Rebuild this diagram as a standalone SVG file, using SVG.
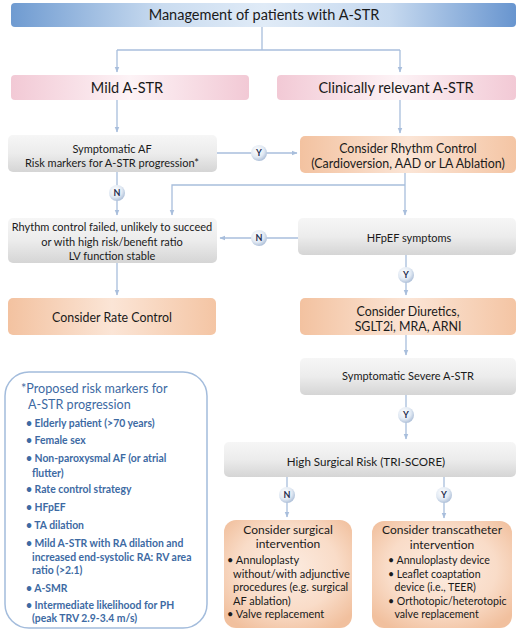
<svg xmlns="http://www.w3.org/2000/svg" width="520" height="634" viewBox="0 0 520 634">
<defs>
<linearGradient id="gTitle" x1="0" y1="0" x2="1" y2="0">
<stop offset="0" stop-color="#6f9bd1"/><stop offset="0.3" stop-color="#cadcf0"/><stop offset="0.5" stop-color="#e0ebf7"/><stop offset="0.75" stop-color="#c6d9ef"/><stop offset="1" stop-color="#6895cf"/>
</linearGradient>
<linearGradient id="gPink" x1="0" y1="0" x2="1" y2="0">
<stop offset="0" stop-color="#f2c9d5"/><stop offset="0.5" stop-color="#fdf3f6"/><stop offset="1" stop-color="#f2c9d5"/>
</linearGradient>
<linearGradient id="gGrey" x1="0" y1="0" x2="0" y2="1">
<stop offset="0" stop-color="#f6f6f6"/><stop offset="0.5" stop-color="#ececec"/><stop offset="1" stop-color="#d5d5d5"/>
</linearGradient>
<linearGradient id="gOrange" x1="0" y1="0" x2="1" y2="0">
<stop offset="0" stop-color="#f3c2a0"/><stop offset="0.5" stop-color="#fbe5d6"/><stop offset="1" stop-color="#f4c5a4"/>
</linearGradient>
<radialGradient id="gOrangeR" cx="0.5" cy="0.45" r="0.65">
<stop offset="0" stop-color="#fcece1"/><stop offset="0.6" stop-color="#f9dcc8"/><stop offset="1" stop-color="#f1c09e"/>
</radialGradient>
<radialGradient id="gBadge" cx="0.4" cy="0.35" r="0.7">
<stop offset="0" stop-color="#ffffff"/><stop offset="0.6" stop-color="#e1e9f3"/><stop offset="1" stop-color="#a6b9d4"/>
</radialGradient>
<marker id="ah" viewBox="0 0 10 10" refX="9" refY="5" markerWidth="4.5" markerHeight="4.5" orient="auto">
<path d="M0,1 L10,5 L0,9 z" fill="#a8bedc"/>
</marker>
</defs>
<style>
text{font-family:Lato,"Liberation Sans",sans-serif;fill:#1a1a1a}
.c{text-anchor:middle}
.t{font-size:14.5px}
.m{font-size:11px}
.o{font-size:12.4px}
.oh{font-size:12px}
.s{font-size:11.6px}
.rk{fill:#3d6aa3;font-size:10.4px;font-weight:bold}
.rt{fill:#3d6aa3;font-size:12.6px}
.bl{font-size:11px}
.bt2{font-size:10.6px}
.conn{fill:none;stroke:#a8bedc;stroke-width:1.3}
.badge{fill:url(#gBadge)}
.bt{font-size:9px;font-weight:bold;fill:#1e2f4f;text-anchor:middle}
</style>

<g id="connectors">
<path class="conn" d="M262,27 V50"/>
<path class="conn" d="M117,50 H400"/>
<path class="conn" d="M117,50 V72" marker-end="url(#ah)"/>
<path class="conn" d="M400,50 V72" marker-end="url(#ah)"/>
<path class="conn" d="M117,100 V132" marker-end="url(#ah)"/>
<path class="conn" d="M400,100 V133" marker-end="url(#ah)"/>
<path class="conn" d="M217,153 H297" marker-end="url(#ah)"/>
<path class="conn" d="M117,172 V215" marker-end="url(#ah)"/>
<path class="conn" d="M405,173 V215" marker-end="url(#ah)"/>
<path class="conn" d="M405,185 H172 V215" marker-end="url(#ah)"/>
<path class="conn" d="M298,238 H220" marker-end="url(#ah)"/>
<path class="conn" d="M117,263 V295" marker-end="url(#ah)"/>
<path class="conn" d="M406,255 V295" marker-end="url(#ah)"/>
<path class="conn" d="M406,335 V355" marker-end="url(#ah)"/>
<path class="conn" d="M406,395 V439" marker-end="url(#ah)"/>
<path class="conn" d="M287,477 V517" marker-end="url(#ah)"/>
<path class="conn" d="M444,477 V518" marker-end="url(#ah)"/>
<g id="badges">
<circle class="badge" cx="259" cy="153" r="8"/><text class="bt" x="259" y="156.3">Y</text>
<circle class="badge" cx="117" cy="193" r="8"/><text class="bt" x="117" y="196.3">N</text>
<circle class="badge" cx="259" cy="238" r="8"/><text class="bt" x="259" y="241.3">N</text>
<circle class="badge" cx="406" cy="275" r="8"/><text class="bt" x="406" y="278.3">Y</text>
<circle class="badge" cx="406" cy="415" r="8"/><text class="bt" x="406" y="418.3">Y</text>
<circle class="badge" cx="287" cy="495" r="8"/><text class="bt" x="287" y="498.3">N</text>
<circle class="badge" cx="444" cy="495" r="8"/><text class="bt" x="444" y="498.3">Y</text>
</g>
</g>

<g id="title">
<rect x="11" y="3" width="505" height="24" rx="4" fill="url(#gTitle)"/>
<text class="c t" x="264" y="20">Management of patients with A-STR</text>
</g>

<g id="mild">
<rect x="11" y="75" width="238" height="25" rx="4" fill="url(#gPink)"/>
<text class="c t" x="127" y="92.5">Mild A-STR</text>
</g>

<g id="relevant">
<rect x="277" y="75" width="239" height="25" rx="4" fill="url(#gPink)"/>
<text class="c t" x="396" y="92.5">Clinically relevant A-STR</text>
</g>

<g id="symptomaticAF">
<rect x="8" y="135" width="209" height="37" rx="5" fill="url(#gGrey)"/>
<text class="c m" x="112" y="152.5">Symptomatic AF</text>
<text class="c m" x="112" y="167">Risk markers for A-STR progression*</text>
</g>

<g id="rhythm">
<rect x="300" y="136" width="216" height="37" rx="5" fill="url(#gOrange)"/>
<text class="c o" x="408" y="152.5">Consider Rhythm Control</text>
<text class="c o" x="408" y="167.5">(Cardioversion, AAD or LA Ablation)</text>
</g>

<g id="failed">
<rect x="8" y="218" width="209" height="45" rx="5" fill="url(#gGrey)"/>
<text class="c m" x="112" y="231">Rhythm control failed, unlikely to succeed</text>
<text class="c m" x="112" y="246">or with high risk/benefit ratio</text>
<text class="c m" x="112" y="259.5">LV function stable</text>
</g>

<g id="hfpef">
<rect x="298" y="218" width="218" height="37" rx="5" fill="url(#gGrey)"/>
<text class="c m" x="409" y="241.5">HFpEF symptoms</text>
</g>

<g id="rate">
<rect x="8" y="298" width="208" height="37" rx="5" fill="url(#gOrange)"/>
<text class="c o" x="112" y="321.5">Consider Rate Control</text>
</g>

<g id="diuretics">
<rect x="300" y="298" width="216" height="37" rx="5" fill="url(#gOrange)"/>
<text class="c o" x="408" y="316">Consider Diuretics,</text>
<text class="c o" x="408" y="331">SGLT2i, MRA, ARNI</text>
</g>

<g id="severe">
<rect x="300" y="358" width="216" height="37" rx="5" fill="url(#gGrey)"/>
<text class="c m" x="408" y="380">Symptomatic Severe A-STR</text>
</g>

<g id="surgicalRisk">
<rect x="224" y="442" width="292" height="35" rx="5" fill="url(#gGrey)"/>
<text class="c s" x="366" y="466">High Surgical Risk (TRI-SCORE)</text>
</g>

<g id="surgical">
<rect x="224" y="520" width="128" height="108" rx="12" fill="url(#gOrangeR)"/>
<text class="c oh" x="288" y="533.5">Consider surgical</text>
<text class="c oh" x="288" y="548">intervention</text>
<text class="bl" x="227" y="564">• Annuloplasty</text>
<text class="bl" x="233" y="577.5">without/with adjunctive</text>
<text class="bl" x="233" y="591">procedures (e.g. surgical</text>
<text class="bl" x="233" y="604.5">AF ablation)</text>
<text class="bl" x="227" y="618">• Valve replacement</text>
</g>

<g id="transcatheter">
<rect x="372" y="521" width="140" height="107" rx="12" fill="url(#gOrangeR)"/>
<text class="c oh" x="442" y="534">Consider transcatheter</text>
<text class="c oh" x="442" y="548.5">intervention</text>
<text class="bt2" x="388" y="564">• Annuloplasty device</text>
<text class="bt2" x="388" y="577.5">• Leaflet coaptation</text>
<text class="bt2" x="394.5" y="591">device (i.e., TEER)</text>
<text class="bt2" x="388" y="604.5">• Orthotopic/heterotopic</text>
<text class="bt2" x="394.5" y="618">valve replacement</text>
</g>

<g id="riskMarkers">
<rect x="5" y="372" width="202" height="256" rx="24" fill="#ffffff" stroke="#a3bcdc" stroke-width="1.5"/>
<text class="rt" x="21" y="393">*Proposed risk markers for</text>
<text class="rt" x="28" y="409">A-STR progression</text>
<text class="rk" x="26" y="427">• Elderly patient (&gt;70 years)</text>
<text class="rk" x="26" y="444">• Female sex</text>
<text class="rk" x="26" y="462">• Non-paroxysmal AF (or atrial</text>
<text class="rk" x="32" y="477">flutter)</text>
<text class="rk" x="26" y="493">• Rate control strategy</text>
<text class="rk" x="26" y="511">• HFpEF</text>
<text class="rk" x="26" y="529">• TA dilation</text>
<text class="rk" x="26" y="547">• Mild A-STR with RA dilation and</text>
<text class="rk" x="32" y="561">increased end-systolic RA: RV area</text>
<text class="rk" x="32" y="574">ratio (&gt;2.1)</text>
<text class="rk" x="26" y="592">• A-SMR</text>
<text class="rk" x="26" y="609">• Intermediate likelihood for PH</text>
<text class="rk" x="32" y="622">(peak TRV 2.9-3.4 m/s)</text>
</g>
</svg>
